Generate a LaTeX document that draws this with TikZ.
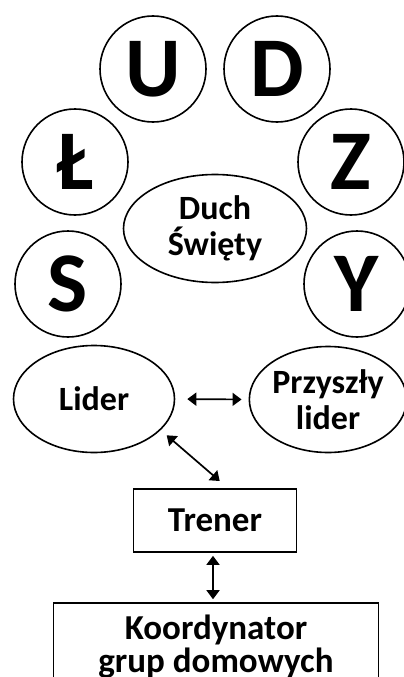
\documentclass[tikz,border=0pt]{standalone}
\usepackage{fontspec}
\setmainfont{Carlito}
\usetikzlibrary{shapes.geometric,arrows.meta}

\tikzset{
  letter/.style={draw=black, circle, line width=1.6pt, minimum size=106pt, inner sep=0pt,
    font=\fontsize{85}{85}\selectfont\bfseries},
  oval/.style={draw=black, ellipse, line width=1.6pt, inner sep=0pt, align=center,
    font=\fontsize{34}{36}\selectfont\bfseries},
  box/.style={draw=black, rectangle, line width=1.6pt, inner sep=0pt, align=center,
    font=\fontsize{35}{33}\selectfont\bfseries},
  twoway/.style={{Triangle[length=9pt,width=13pt]}-{Triangle[length=9pt,width=13pt]}, line width=1.7pt}
}

\begin{document}
\begin{tikzpicture}[x=1pt,y=-1pt]
        \clip (0,0) rectangle (404,677);

        % the seven circles round the Holy Spirit
        \node[letter] (U) at (153,69) {U};
        \node[letter] (D) at (277,69) {D};
        \node[letter] (lstroke) at (75,162) {Ł};
        \node[letter] (Z) at (351,162) {Z};
        \node[letter] (S) at (68,284) {S};
        \node[letter] (Y) at (357,284) {Y};
        \node[oval, minimum width=183pt, minimum height=108pt] (duch) at (215,228.5) {Duch\\Święty};

        \node[oval, minimum width=161pt, minimum height=107pt] (lider) at (94,399) {Lider};
        \node[oval, minimum width=154pt, minimum height=106pt] (przyszly) at (328,399.5) {Przyszły\\lider};
        \node[box, minimum width=163pt, minimum height=63pt] (trener) at (215,520.5) {Trener};
        \node[box, minimum width=325pt, minimum height=87pt] (koord) at (216,646.5) {Koordynator\\grup domowych};

        \draw[twoway, shorten <=12pt, shorten >=7pt](lider.east) -- (przyszly.west);
        \draw[twoway, shorten <=8pt, shorten >=11pt](lider.-25) -- (trener.68);
        \draw[twoway, shorten <=3pt, shorten >=3pt]([xshift=-2pt]trener.south) -- ([xshift=-3pt]koord.north);
    \end{tikzpicture}
\end{document}
